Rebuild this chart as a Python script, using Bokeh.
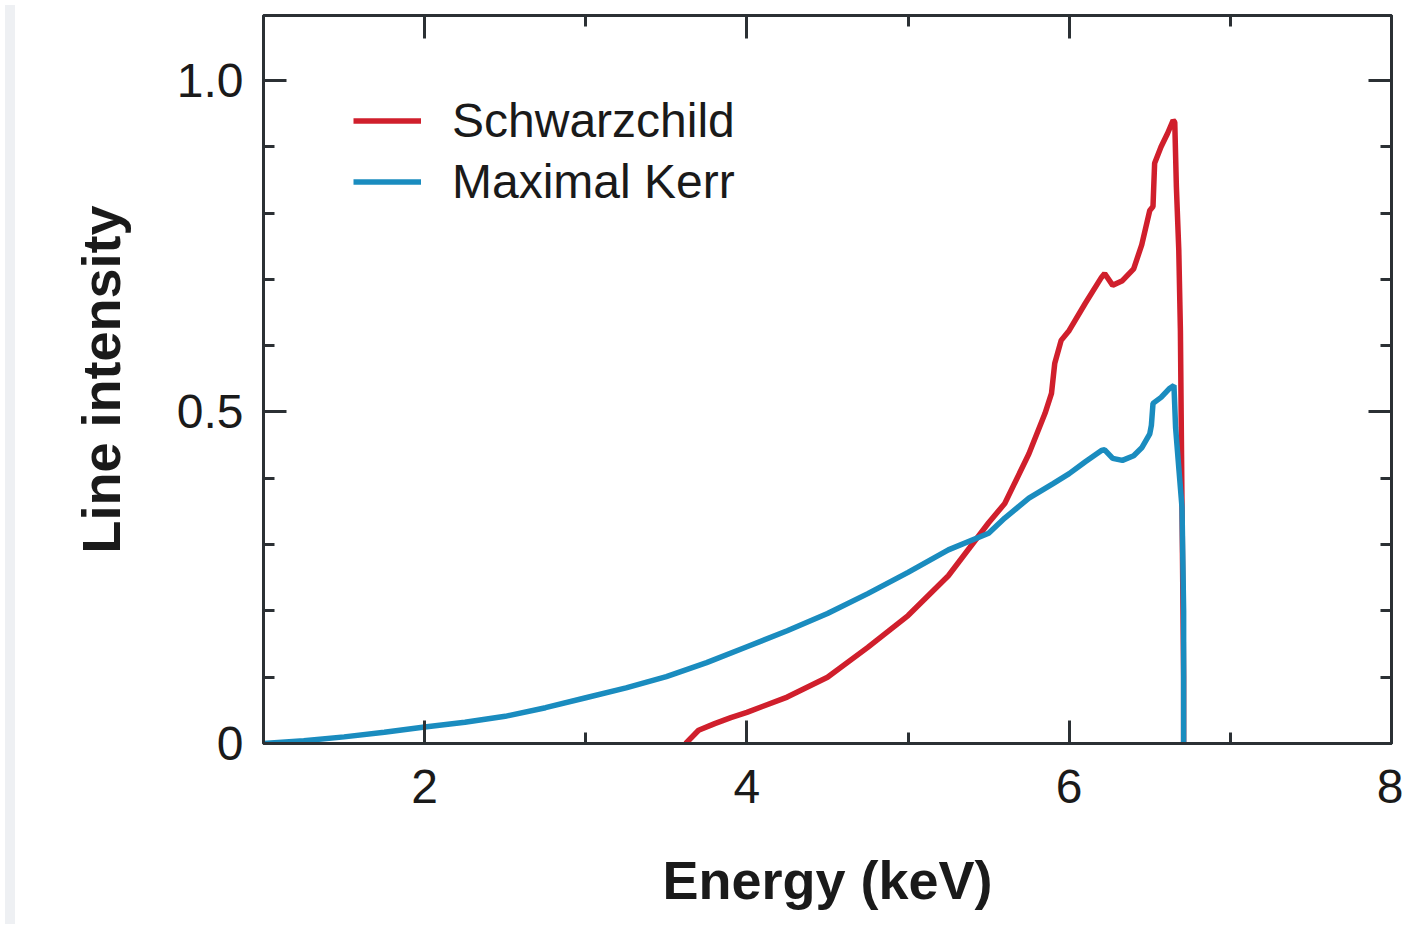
from bokeh.plotting import figure
from bokeh.models import FixedTicker, LinearAxis, Legend, LegendItem, Div, Range1d
from bokeh.layouts import row
from bokeh.embed import file_html
from bokeh.resources import INLINE

# ---- data ----
kerr_energy = [1.0, 1.25, 1.5, 1.75, 2.0, 2.25, 2.5, 2.75, 3.0, 3.25, 3.5, 3.75, 4.0,
               4.25, 4.5, 4.75, 5.0, 5.25, 5.5, 5.6, 5.75, 5.9, 6.0, 6.1, 6.2, 6.22,
               6.27, 6.33, 6.4, 6.45, 6.5, 6.51, 6.52, 6.57, 6.62, 6.65, 6.66, 6.68,
               6.70, 6.71, 6.71]
kerr_intensity = [0.0, 0.004, 0.01, 0.017, 0.025, 0.032, 0.041, 0.054, 0.069, 0.084,
                  0.101, 0.122, 0.146, 0.17, 0.196, 0.226, 0.258, 0.292, 0.317, 0.34,
                  0.37, 0.392, 0.407, 0.425, 0.442, 0.443, 0.43, 0.427, 0.434, 0.446,
                  0.467, 0.48, 0.513, 0.522, 0.535, 0.54, 0.477, 0.416, 0.356, 0.2, 0.0]

schw_energy = [3.62, 3.7, 3.8, 3.9, 4.0, 4.25, 4.5, 4.75, 5.0, 5.25, 5.5, 5.6, 5.75,
               5.85, 5.89, 5.91, 5.95, 6.0, 6.1, 6.2, 6.22, 6.27, 6.33, 6.4, 6.45,
               6.5, 6.52, 6.53, 6.57, 6.61, 6.645, 6.655, 6.665, 6.68, 6.69, 6.70,
               6.71, 6.71]
schw_intensity = [0.0, 0.02, 0.03, 0.039, 0.047, 0.07, 0.1, 0.145, 0.193, 0.253,
                  0.333, 0.362, 0.437, 0.498, 0.528, 0.573, 0.608, 0.623, 0.664,
                  0.703, 0.709, 0.691, 0.698, 0.716, 0.752, 0.804, 0.81, 0.875, 0.9,
                  0.92, 0.94, 0.937, 0.84, 0.744, 0.623, 0.356, 0.1, 0.0]

x_major = [2, 4, 6, 8]
x_minor = [3, 5, 7]
y_major = [0, 0.5, 1.0]
y_minor = [0.1, 0.2, 0.3, 0.4, 0.6, 0.7, 0.8, 0.9]
y_labels = {0: "0", 0.5: "0.5", 1: "1.0"}

RED = "#d01f2c"
BLUE = "#1a8cbf"
AX = "#2b3034"
FONT = "Liberation Sans"

p = figure(frame_width=1128, frame_height=728,
           x_range=Range1d(1, 8), y_range=Range1d(0, 1.098),
           output_backend="svg", toolbar_location=None,
           min_border_left=243, min_border_right=12,
           min_border_top=15, min_border_bottom=176,
           x_axis_location=None, y_axis_location=None)
p.grid.visible = False
p.background_fill_color = "white"
p.border_fill_color = "white"
p.outline_line_color = AX
p.outline_line_width = 3


def make_axis(ticker, show, label=None):
    ax = LinearAxis(ticker=ticker)
    ax.axis_line_color = AX
    ax.axis_line_width = 3
    ax.major_tick_line_color = AX
    ax.major_tick_line_width = 3
    ax.minor_tick_line_color = AX
    ax.minor_tick_line_width = 3
    ax.major_tick_in = 23
    ax.major_tick_out = 0
    ax.minor_tick_in = 11
    ax.minor_tick_out = 0
    if show:
        ax.major_label_text_font = FONT
        ax.major_label_text_font_size = "48px"
        ax.major_label_text_color = "#1a1a1a"
    else:
        ax.major_label_overrides = {t: "" for t in ticker.ticks}
        ax.major_label_text_font_size = "1px"
        ax.major_label_standoff = 0
    if label:
        ax.axis_label = label
        ax.axis_label_text_font = FONT
        ax.axis_label_text_font_size = "54px"
        ax.axis_label_text_font_style = "bold"
        ax.axis_label_text_color = "#1a1a1a"
    return ax


xb = make_axis(FixedTicker(ticks=x_major, minor_ticks=x_minor), True, "Energy (keV)")
xb.major_label_standoff = 26
xb.axis_label_standoff = 44
p.add_layout(xb, "below")

xt = make_axis(FixedTicker(ticks=x_major, minor_ticks=x_minor), False)
p.add_layout(xt, "above")

yl = make_axis(FixedTicker(ticks=y_major, minor_ticks=y_minor), True, "Line intensity")
yl.major_label_overrides = y_labels
yl.major_label_standoff = 20
yl.axis_label_standoff = 43
p.add_layout(yl, "left")

yr = make_axis(FixedTicker(ticks=y_major, minor_ticks=y_minor), False)
p.add_layout(yr, "right")

r1 = p.line(schw_energy, schw_intensity, line_color=RED, line_width=5.5)
r2 = p.line(kerr_energy, kerr_intensity, line_color=BLUE, line_width=5.5)

legend = Legend(items=[LegendItem(label="Schwarzchild", renderers=[r1]),
                       LegendItem(label="Maximal Kerr", renderers=[r2])],
                location=(90, 534))
legend.border_line_alpha = 0
legend.background_fill_alpha = 0
legend.label_text_font = FONT
legend.label_text_font_size = "48px"
legend.label_text_color = "#1a1a1a"
legend.glyph_width = 68
legend.glyph_height = 55
legend.label_height = 55
legend.spacing = 6
legend.padding = 0
legend.margin = 0
legend.label_standoff = 31
p.add_layout(legend)

strip = Div(text="", width=10, height=919,
            styles={"background-color": "#eef0f3"})

layout = row(strip, p, spacing=0)

open("out.html", "w").write(file_html(layout, INLINE))
